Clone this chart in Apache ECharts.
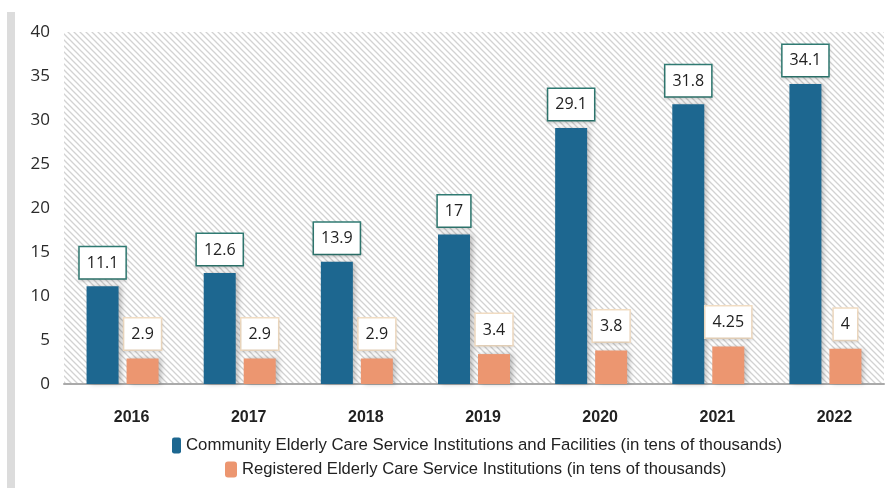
<!DOCTYPE html>
<html><head><meta charset="utf-8">
<script src="https://cdn.jsdelivr.net/npm/echarts@6/dist/echarts.min.js"></script>
<style>html,body{margin:0;padding:0;background:#fff}#c{width:896px;height:488px}</style>
</head><body><div id="c"></div>
<script>
var years = ['2016','2017','2018','2019','2020','2021','2022'];
var communityValues = [11.1, 12.6, 13.9, 17, 29.1, 31.8, 34.1];
var registeredValues = [2.9, 2.9, 2.9, 3.4, 3.8, 4.25, 4];
var seriesNames = ['Community Elderly Care Service Institutions and Facilities (in tens of thousands)',
                   'Registered Elderly Care Service Institutions (in tens of thousands)'];

var pc = document.createElement('canvas');
pc.width = 6; pc.height = 6;
var g = pc.getContext('2d');
g.fillStyle = '#ffffff'; g.fillRect(0,0,6,6);
g.strokeStyle = '#d2d2d2'; g.lineWidth = 1.3;
g.beginPath();
g.moveTo(-1,-1); g.lineTo(7,7);
g.moveTo(-1,5); g.lineTo(1,7);
g.moveTo(5,-1); g.lineTo(7,1);
g.stroke();

var chart = echarts.init(document.getElementById('c'), null, {renderer:'canvas'});
chart.setOption({
  animation:false,
  backgroundColor:'#fff',
  graphic:[{type:'rect', shape:{x:7,y:12,width:8,height:476}, style:{fill:'#dcdcdc'}, z:-1}],
  grid:{left:64, right:12, top:32, bottom:104, show:true, backgroundColor:{image:pc, repeat:'repeat'}, borderWidth:0},
  legend:[
    {data:[seriesNames[0]], left:167, top:432, itemWidth:9, itemHeight:16, itemGap:4,
     textStyle:{fontSize:16.8, color:'#222', fontFamily:'Liberation Sans'}},
    {data:[seriesNames[1]], left:220, top:456, itemWidth:12, itemHeight:16,
     textStyle:{fontSize:16.6, color:'#222', fontFamily:'Liberation Sans'}}
  ],
  xAxis:{type:'category', data:years,
    axisLine:{lineStyle:{color:'#aaaaaa', width:2}}, axisTick:{show:false},
    axisLabel:{fontSize:16, fontWeight:'bold', color:'#222', fontFamily:'Liberation Sans', margin:26, padding:[0,0,0,18]}},
  yAxis:{type:'value', min:0, max:40, interval:5,
    axisLine:{show:false}, axisTick:{show:false}, splitLine:{show:false},
    axisLabel:{fontSize:17, color:'#2a2a2a', fontFamily:'Open Sans', margin:14}},
  series:[
    {name:seriesNames[0], type:'bar', data:communityValues, barWidth:32, barGap:'25%',
     itemStyle:{color:'#1d6790', shadowColor:'rgba(0,0,0,0.25)', shadowBlur:5, shadowOffsetX:3},
     label:{show:true, position:'top', distance:8, fontSize:16, color:'#222', fontFamily:'Open Sans',
       backgroundColor:'#fff', borderColor:'#2f7a72', borderWidth:1.5, padding:[8,7,7,7],
       shadowColor:'rgba(0,0,0,0.15)', shadowBlur:3, shadowOffsetY:2}},
    {name:seriesNames[1], type:'bar', data:registeredValues, barWidth:32,
     itemStyle:{color:'#ec9670', shadowColor:'rgba(0,0,0,0.25)', shadowBlur:5, shadowOffsetX:3},
     label:{show:true, position:'top', distance:9, fontSize:16, color:'#222', fontFamily:'Open Sans',
       backgroundColor:'#fff', borderColor:'#f1dcc2', borderWidth:1.5, padding:[8,7,7,7],
       shadowColor:'rgba(0,0,0,0.1)', shadowBlur:3, shadowOffsetY:2}}
  ]
});
</script></body></html>
